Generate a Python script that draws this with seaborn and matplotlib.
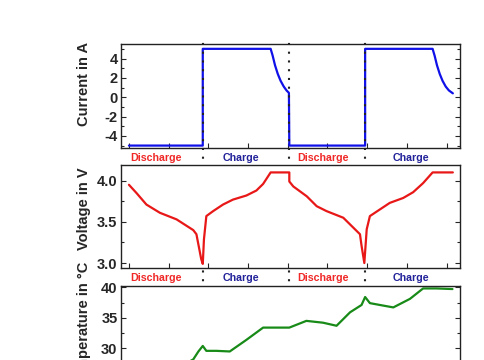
import matplotlib
matplotlib.use('Agg')
import matplotlib.pyplot as plt
import matplotlib.transforms as mtransforms
from matplotlib.ticker import MultipleLocator
import seaborn as sns
import pandas as pd

# Current profile (time in h, current in A)
t_current = [0.0, 1.86, 1.86, 3.57, 3.62, 3.68, 3.75, 3.82, 3.90, 3.97, 4.03,
             4.04, 5.95, 5.95, 7.65, 7.70, 7.76, 7.83, 7.90, 7.98, 8.06, 8.16]
current = [-5.0, -5.0, 5.0, 5.0, 4.3, 3.3, 2.4, 1.7, 1.1, 0.7, 0.45,
           -5.0, -5.0, 5.0, 5.0, 4.3, 3.3, 2.4, 1.7, 1.1, 0.7, 0.4]

# Cell voltage
t_voltage = [0.0, 0.19, 0.44, 0.78, 1.20, 1.62, 1.70, 1.76, 1.82, 1.86,
             1.89, 1.95, 2.12, 2.37, 2.62, 2.96, 3.21, 3.38, 3.57, 4.04,
             4.04, 4.14, 4.48, 4.73, 4.98, 5.40, 5.82, 5.86, 5.93,
             5.99, 6.07, 6.32, 6.57, 6.91, 7.16, 7.41, 7.65, 8.16]
voltage = [3.95, 3.85, 3.71, 3.61, 3.53, 3.40, 3.35, 3.20, 3.05, 2.99,
           3.29, 3.57, 3.63, 3.71, 3.77, 3.82, 3.88, 3.96, 4.10, 4.10,
           3.99, 3.93, 3.81, 3.69, 3.63, 3.55, 3.35, 3.21, 3.00,
           3.41, 3.57, 3.65, 3.73, 3.79, 3.86, 3.97, 4.10, 4.10]

# Cell temperature
t_temp = [0.0, 0.5, 1.0, 1.4, 1.62, 1.75, 1.86, 1.95, 2.2, 2.54, 2.96, 3.38,
          4.04, 4.47, 4.89, 5.23, 5.57, 5.86, 5.95, 6.07, 6.32, 6.66, 7.08,
          7.41, 7.75, 8.15]
temp = [24.5, 25.6, 26.6, 27.4, 28.2, 29.5, 30.4, 29.6, 29.6, 29.5, 31.4, 33.4,
        33.4, 34.5, 34.2, 33.7, 35.9, 37.1, 38.4, 37.4, 37.1, 36.7, 38.1,
        39.8, 39.8, 39.7]

switch_times = [1.86, 4.04, 5.95]
phase_labels = ['Discharge', 'Charge', 'Discharge', 'Charge']
phase_pos = [0.675, 2.82, 4.88, 7.10]
phase_colors = ['#f02828', '#22229a', '#f02828', '#22229a']

sns.set_style('ticks')
plt.rcParams['font.family'] = ['Liberation Sans', 'DejaVu Sans']
plt.rcParams['font.weight'] = 'bold'
plt.rcParams['axes.labelweight'] = 'bold'
plt.rcParams['axes.unicode_minus'] = False

fig = plt.figure(figsize=(4.85, 3.6), dpi=100)
W, H = 485, 360
ax1 = fig.add_axes([121 / W, (H - 148) / H, 339 / W, 104 / H])
ax2 = fig.add_axes([121 / W, (H - 268) / H, 339 / W, 103 / H])
ax3 = fig.add_axes([121 / W, (H - 390) / H, 339 / W, 104 / H])

df_i = pd.DataFrame({'t': t_current, 'I': current})
df_v = pd.DataFrame({'t': t_voltage, 'V': voltage})
df_T = pd.DataFrame({'t': t_temp, 'T': temp})

sns.lineplot(data=df_i, x='t', y='I', ax=ax1, sort=False, estimator=None,
             color='#1010e8', linewidth=1.6)
sns.lineplot(data=df_v, x='t', y='V', ax=ax2, sort=False, estimator=None,
             color='#e81818', linewidth=1.6)
sns.lineplot(data=df_T, x='t', y='T', ax=ax3, sort=False, estimator=None,
             color='#178a17', linewidth=1.6)

ax1.set_ylim(-5.25, 5.5)
ax1.yaxis.set_major_locator(MultipleLocator(2))
ax1.yaxis.set_minor_locator(MultipleLocator(1))
ax1.set_ylabel('Current in A', fontsize=10.5)

ax2.set_ylim(2.94, 4.19)
ax2.yaxis.set_major_locator(MultipleLocator(0.5))
ax2.yaxis.set_minor_locator(MultipleLocator(0.25))
ax2.yaxis.set_major_formatter('{x:.1f}')
ax2.set_ylabel('Voltage in V', fontsize=10.5)

ax3.set_ylim(23.2, 40.2)
ax3.yaxis.set_major_locator(MultipleLocator(5))
ax3.yaxis.set_minor_locator(MultipleLocator(2.5))
ax3.set_ylabel('Temperature in °C', fontsize=10.5)

label_y = [0.615, 0.58, 0.635]
for ax, ly in zip([ax1, ax2, ax3], label_y):
    ax.set_xlim(-0.2, 8.34)
    ax.xaxis.set_major_locator(MultipleLocator(1))
    ax.set_xlabel('')
    ax.set_xticklabels([])
    ax.tick_params(axis='x', which='major', direction='in', length=3.5,
                   width=0.8, top=False, bottom=True)
    ax.tick_params(axis='y', which='major', direction='in', length=3.5,
                   width=0.8, left=True, right=True, labelsize=10.5, pad=2.5)
    ax.tick_params(axis='y', which='minor', direction='in', length=2,
                   width=0.8, left=True, right=True)
    for s in ax.spines.values():
        s.set_linewidth(1.0)
        s.set_color('#222222')
    ax.yaxis.set_label_coords(-0.088, ly)

# phase labels below the first two panels
for ax in [ax1, ax2]:
    trans = mtransforms.blended_transform_factory(ax.transData, ax.transAxes)
    for lab, xp, c in zip(phase_labels, phase_pos, phase_colors):
        ax.text(xp, -0.098, lab, transform=trans, ha='center', va='center',
                fontsize=7.7, fontweight='bold', color=c, clip_on=False)

# dotted switch lines across all panels
trans_fig = mtransforms.blended_transform_factory(ax1.transData, fig.transFigure)
ax1.vlines(switch_times, 0, (H - 37) / H, transform=trans_fig, colors='#222222',
           linestyles=(0, (1.0, 3.2)), linewidth=1.5, clip_on=False)

fig.savefig('out.png', dpi=100)
